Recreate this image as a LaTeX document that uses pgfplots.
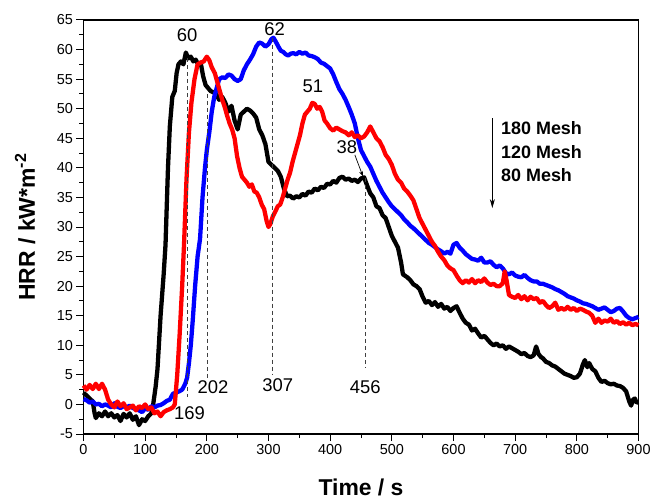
\documentclass[border=0pt]{standalone}
\usepackage{pgfplots}
\pgfplotsset{compat=1.18}
\usepackage{fontspec}
\setmainfont{Liberation Sans}
\usetikzlibrary{arrows.meta}

\pgfplotstableread{
t v
0 2.0
5 1.5
10 1.0
15 0.5
18 -1.5
20 -2.3
25 -1.5
30 -2.0
35 -1.2
40 -2.0
45 -1.5
50 -2.2
55 -1.8
60 -2.8
65 -1.6
70 -2.2
75 -1.5
80 -2.6
85 -2.0
90 -3.5
95 -2.5
100 -2.8
105 -2.0
110 -1.5
113 0
117 3
120 6
125 15
130 22
133 27
137 40
140 47
144 52
148 53
151 56
154 57.5
158 58
162 57.5
166 59.5
170 58.5
174 58.8
178 58
182 58.3
186 57.5
190 57.8
194 55.5
198 54
202 53.5
206 53
210 52.8
215 52.5
220 51.5
225 52
230 51
235 49.5
240 50.5
245 48
250 46.5
255 49
260 49.5
265 50
270 49.7
275 49.2
280 48.5
285 46.5
290 45.5
295 44
300 41
305 40.5
310 40
315 39.5
320 38.5
325 36.5
330 35.2
335 35.3
340 34.8
345 35.2
350 35
355 35.6
360 35.3
365 36
370 35.8
375 36.5
380 36.2
385 36.8
390 36.6
395 37.3
400 37.2
405 37.8
410 37.5
415 38.3
420 38.5
425 38.0
430 38.2
435 37.8
440 38.0
445 37.6
450 38.2
455 38.4
460 37
465 35.7
470 35
475 33.5
480 33.2
485 32
490 31.5
495 30
500 28.5
505 27.5
510 26.5
515 24
518 22
525 21.5
530 21
535 20.3
540 20
545 19.5
550 18.2
555 17.2
560 17.5
565 16.8
570 17.3
575 16.5
580 17
585 16.2
590 16.5
595 15.8
600 16.3
605 16.6
610 15.5
615 14.5
620 13.8
625 13.5
630 12.5
635 12.8
640 12
645 11.3
650 11.6
655 11
660 10.4
665 10
670 10.3
675 9.8
680 10
685 9.4
690 9.8
695 9.5
700 9.2
705 8.9
710 8.5
715 8.7
720 8.2
725 8
730 8.3
734 9.8
738 8.5
742 8
745 7.8
750 7.2
755 7
760 6.6
765 6.4
770 6
775 5.6
780 5.2
785 5
790 4.8
795 4.5
800 4.6
805 5.2
810 6.8
813 7.5
817 6.3
820 7
825 6
830 5.6
835 4.5
840 3.8
845 4
850 3.6
855 3.4
860 3.5
865 3.2
870 3.1
875 2.8
880 2.2
885 0.5
888 -0.2
891 0.8
894 1.0
897 0.3
900 0.4
}\blackdata

\pgfplotstableread{
t v
0 3.2
5 2.5
10 3.3
15 2.6
20 3.5
25 2.6
30 3.5
35 2.5
40 0.8
45 0.0
50 -0.5
55 0.5
60 -0.3
65 0.2
70 -0.8
75 -0.5
80 -0.2
85 -1.0
90 -0.3
95 -0.6
100 0.0
105 -0.8
110 -0.5
115 -1.5
120 -1.2
125 -2.0
130 -1.3
135 -1.0
140 -0.8
145 -0.5
148 0.0
152 5
156 12
160 20
163 27
167 38
171 46
175 51
180 55
185 57.5
190 57.8
195 58
200 58.8
204 58.2
208 57
213 56
217 54.5
221 53
225 51.5
229 50.3
233 48.8
237 47.5
241 46.5
245 45
249 42
253 40
257 38.5
261 38
265 37.5
269 36.8
273 37.2
277 36
281 35.8
285 35
289 33.8
293 33
297 31
300 30
303 30.5
307 31.8
311 32.6
315 33.5
319 33.8
323 35
327 36.5
331 38
335 39.2
339 41
343 42.5
347 44
351 45.5
355 47.5
359 49
363 49.5
367 50
371 51
375 50.8
379 50
383 50.3
387 49.5
391 48
395 47.5
400 46.7
405 46.3
410 46.8
415 46.5
420 46.2
425 46
430 45.5
435 46
440 45.2
445 45.5
450 45
455 45.3
460 46
465 47
470 46
475 45
480 44.5
485 43.5
490 42.2
495 41.5
500 40.5
505 39
510 38
515 37.5
520 36.5
525 36
530 35.3
535 34.5
540 33
545 31.5
550 30.5
555 29.5
560 28.5
565 27.5
570 26.8
575 25.8
580 25
585 24.4
590 23.5
595 23
600 22.7
605 21.8
610 21
615 20.5
620 21
625 20.6
630 21.2
635 20.5
640 21
645 20.7
650 21.3
655 20.6
660 20.2
665 20.4
670 20
675 20
680 20.5
683 22.5
686 21
690 18.5
695 18.2
700 18
705 18.5
710 17.8
715 18.3
720 17.6
725 18.2
730 17.8
735 18
740 17.2
745 17.5
750 16.8
755 16.3
760 16.6
765 17.2
770 16
775 16.3
780 16
785 16.5
790 16
795 16.3
800 15.8
805 16.2
810 16
815 15.7
820 15.5
825 15
830 13.8
835 14.5
840 13.8
845 14.2
850 14
855 14.5
860 13.8
865 14.1
870 13.6
875 13.9
880 13.5
885 13.8
890 13.4
895 13.6
900 13.4
}\reddata

\pgfplotstableread{
t v
0 0.9
5 0.7
10 0.3
15 0.5
20 0
25 0.1
30 -0.3
35 0
40 -0.2
45 -0.5
50 0.2
55 -0.4
60 -0.6
65 -0.3
70 -0.5
75 -0.2
80 -0.6
85 -0.8
90 -1.0
95 -1.3
100 -0.7
105 -0.9
110 -0.3
115 -0.5
120 -0.2
125 -0.1
130 0.2
135 0.6
140 0.8
145 1.8
150 2
155 2.2
160 2.5
165 3.5
168 4.5
171 7
174 10
177 14
181 20
185 25
189 28
193 35
197 40
200 43
204 46
208 49.5
212 52
216 53.5
220 55
225 55.3
230 55.2
235 55.8
240 55.6
245 55
250 54.7
255 55
260 56.5
265 57.5
270 58.3
275 59.2
280 60.5
285 61.2
290 61
295 60.5
300 60.9
305 61.8
308 62
312 61.3
316 60.5
320 59.8
324 59.6
328 59.2
332 59
336 59.3
340 59.4
345 59.2
350 59.6
355 59.3
360 59.5
365 59
370 58.9
375 58.7
380 58.4
385 57.8
390 57.6
395 57.2
400 56.8
405 55.8
410 54.5
415 53.3
420 52.5
425 51.5
430 50.3
435 49
440 47.5
445 45
450 43
455 42
460 41
465 40.2
470 39
475 37.8
480 36.8
485 35.8
490 35
495 34.2
500 33.5
505 33
510 32.5
515 32
520 31.3
525 30.8
530 30.2
535 29.8
540 29.3
545 28.8
550 28.3
555 27.8
560 27.3
565 27
570 26.6
575 26.2
580 25.9
585 25.5
590 25.8
595 25.5
600 27
605 27.3
610 26.5
615 26
620 25.4
625 25
630 24.6
635 24.5
640 24.3
645 24.8
650 24
655 24
660 24.2
665 23.6
670 23.2
675 23.5
680 23
685 22.2
690 22
695 22.3
700 21.8
705 21.6
710 21.5
715 21.9
720 21.4
725 21
730 20.8
735 20.8
740 20.4
745 20.4
750 20.2
755 20
760 19.8
765 19.5
770 19.3
775 19
780 18.7
785 18.3
790 18.1
795 17.9
800 17.6
805 17.4
810 17.1
815 17
820 16.8
825 16.6
830 16.3
835 16
840 16.2
845 16.4
850 16
855 15.6
860 15.8
865 16.2
870 16.3
875 15.7
880 15
885 14.6
890 14.4
895 14.6
900 14.8
}\bluedata

\begin{document}
\begin{tikzpicture}
\begin{axis}[
  scale only axis,
  width=555bp, height=414bp,
  xmin=0, xmax=900, ymin=-5, ymax=65,
  xtick={0,100,...,900},
  ytick={-5,0,...,65},
  minor x tick num=1,
  minor y tick num=1,
  tick align=outside,
  xtick pos=bottom, ytick pos=left,
  major tick length=7bp,
  minor tick length=4bp,
  tick style={black, line width=1pt},
  axis line style={black, line width=1.2pt},
  /pgf/number format/assume math mode=true,
  ticklabel style={font=\fontsize{14.5}{16}\selectfont},
  xlabel={Time / s},
  ylabel={HRR / kW*m\textsuperscript{-2}},
  label style={font=\bfseries\fontsize{23}{26}\selectfont},
  xlabel style={at={(axis description cs:0.5,0)}, anchor=base, yshift=-61bp},
  ylabel style={at={([xshift=-48.5bp]axis description cs:0,0.5)}, anchor=base},
  clip=false,
]
\coordinate (SW) at (rel axis cs:0,0);
\addplot[black, line width=4.3pt, line join=round] table[x=t,y=v] {\blackdata};
\addplot[blue, line width=4.3pt, line join=round] table[x=t,y=v] {\bluedata};
\addplot[red, line width=4.3pt, line join=round] table[x=t,y=v] {\reddata};

\draw[black!75, line width=0.8pt, dash pattern=on 4bp off 3bp] (axis cs:169,58.5) -- (axis cs:169,1.3);
\draw[black!75, line width=0.8pt, dash pattern=on 4bp off 3bp] (axis cs:201,52.5) -- (axis cs:201,4.5);
\draw[black!75, line width=0.8pt, dash pattern=on 4bp off 3bp] (axis cs:307,62) -- (axis cs:307,5);
\draw[black!75, line width=0.8pt, dash pattern=on 4bp off 3bp] (axis cs:456.5,38.3) -- (axis cs:456.5,6.2);

\begin{scope}[every node/.style={font=\fontsize{18.5}{20}\selectfont, inner sep=0pt}]
\node at (axis cs:168,62.4) {60};
\node at (axis cs:310,63.4) {62};
\node at (axis cs:372,53.8) {51};
\node at (axis cs:427,43.5) {38};
\node at (axis cs:172,-1.5) {169};
\node at (axis cs:210,3) {202};
\node at (axis cs:315,3.3) {307};
\node at (axis cs:457,3) {456};
\end{scope}
\draw[black, line width=0.7pt, -{Stealth[length=5bp,width=4bp]}] (axis cs:440,42.2) -- (axis cs:453,38.6);

\draw[black, line width=0.8pt, -{Stealth[length=9bp,width=5bp]}] (axis cs:663,48.4) -- (axis cs:663,33.2);
\begin{scope}[every node/.style={font=\bfseries\fontsize{18}{20}\selectfont, anchor=west, inner sep=0pt}]
\node at (axis cs:677,46.7) {180 Mesh};
\node at (axis cs:677,42.7) {120 Mesh};
\node at (axis cs:677,38.8) {80 Mesh};
\end{scope}
\end{axis}
\pgfresetboundingbox
\path ([shift={(-83.5bp,-66bp)}]SW) rectangle ([shift={(568.5bp,434bp)}]SW);
\end{tikzpicture}
\end{document}
